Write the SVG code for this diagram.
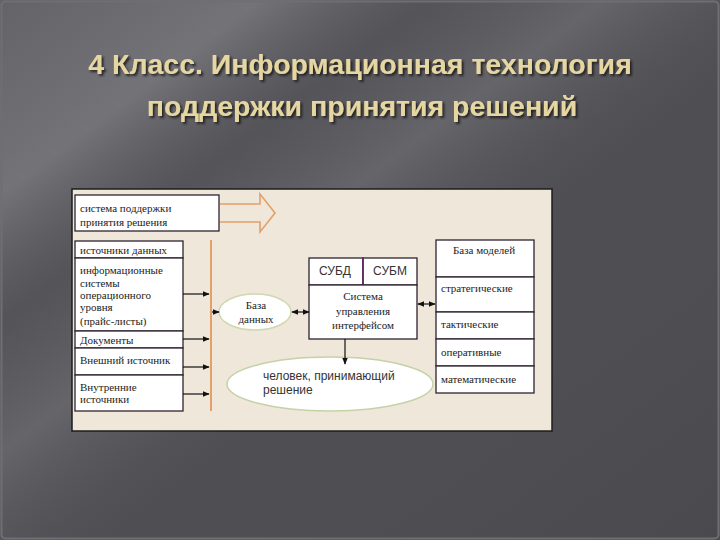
<svg xmlns="http://www.w3.org/2000/svg" width="720" height="540" viewBox="0 0 720 540">
<style>
.bg{fill:#4e4e53}
.title{font-family:"Liberation Sans",Arial,sans-serif;font-weight:bold;font-size:28.5px;text-anchor:middle;fill:#E6D7A2}
.panel{fill:#EFE7D9;stroke:#1c1c1c;stroke-width:1.5}
.box{fill:#ffffff;stroke:#2e2230;stroke-width:1.3}
.lbl{font-family:"Liberation Serif","Times New Roman",serif;font-size:11px;fill:#222}
.sans{font-family:"Liberation Sans",Arial,sans-serif;font-size:12px;fill:#333}
.mid{text-anchor:middle}
.con{stroke:#111;stroke-width:1.2;fill:none}
.orange{stroke:#E3A06A;stroke-width:1.6;fill:none}
</style>
<defs>
<linearGradient id="streak" x1="0" y1="0" x2="1" y2="1">
<stop offset="0" stop-color="#8a8a90" stop-opacity="0.35"/>
<stop offset="0.18" stop-color="#a0a0a6" stop-opacity="0.45"/>
<stop offset="0.3" stop-color="#6a6a70" stop-opacity="0.2"/>
<stop offset="0.42" stop-color="#9a9aa0" stop-opacity="0.3"/>
<stop offset="0.6" stop-color="#4e4e53" stop-opacity="0"/>
<stop offset="1" stop-color="#3e3e42" stop-opacity="0.3"/>
</linearGradient>
<filter id="shadow" x="-5%" y="-30%" width="110%" height="160%">
<feDropShadow dx="2" dy="2" stdDeviation="0.8" flood-color="#1a1a1c" flood-opacity="0.9"/>
</filter>
<marker id="ah" viewBox="0 0 10 10" refX="9" refY="5" markerWidth="6" markerHeight="6" orient="auto-start-reverse">
<path d="M0,1 L10,5 L0,9 Z" fill="#111"/>
</marker>
</defs>
<rect class="bg" x="0" y="0" width="720" height="540"/>
<rect x="0" y="0" width="720" height="540" fill="url(#streak)"/>
<rect x="1.5" y="1.5" width="717" height="537" fill="none" stroke="#6e6e74" stroke-width="2" rx="4"/>

<g id="title" filter="url(#shadow)">
<text class="title" x="360" y="74">4 Класс. Информационная технология</text>
<text class="title" x="362" y="116">поддержки принятия решений</text>
</g>

<rect class="panel" x="72" y="189" width="480" height="242"/>

<g id="dss">
<rect class="box" x="75" y="195" width="144" height="36"/>
<text class="lbl" x="80" y="212">система поддержки</text>
<text class="lbl" x="80" y="226">принятия решения</text>
</g>

<g id="sources">
<rect class="box" x="75" y="241" width="108" height="17"/>
<text class="lbl" x="80" y="254">источники данных</text>
</g>
<g id="infosys">
<rect class="box" x="75" y="258" width="108" height="73"/>
<text class="lbl" x="80" y="274">информационные</text>
<text class="lbl" x="80" y="287">системы</text>
<text class="lbl" x="80" y="299">операционного</text>
<text class="lbl" x="80" y="311">уровня</text>
<text class="lbl" x="80" y="325">(прайс-листы)</text>
</g>
<g id="docs">
<rect class="box" x="75" y="331" width="108" height="17"/>
<text class="lbl" x="80" y="344">Документы</text>
</g>
<g id="external">
<rect class="box" x="75" y="348" width="108" height="27"/>
<text class="lbl" x="80" y="364">Внешний источник</text>
</g>
<g id="internal">
<rect class="box" x="75" y="375" width="108" height="36"/>
<text class="lbl" x="80" y="391">Внутренние</text>
<text class="lbl" x="80" y="403">источники</text>
</g>

<g id="database">
<ellipse cx="255" cy="312" rx="36" ry="18" fill="#ffffff" stroke="#cfd8b0" stroke-width="1.5"/>
<text class="lbl mid" x="256" y="309" font-size="11.5">База</text>
<text class="lbl mid" x="256" y="323" font-size="11.5">данных</text>
</g>

<g id="dbms">
<rect class="box" x="309" y="258" width="54" height="27"/>
<text class="sans mid" x="335" y="275" font-size="11.5">СУБД</text>
</g>
<g id="mbms">
<rect class="box" x="363" y="258" width="54" height="27"/>
<text class="sans mid" x="390" y="275" font-size="11.5">СУБМ</text>
</g>
<line x1="363" y1="258" x2="363" y2="285" stroke="#6a2a6a" stroke-width="1.6"/>
<g id="interface">
<rect class="box" x="309" y="285" width="108" height="54"/>
<text class="lbl mid" x="363" y="300">Система</text>
<text class="lbl mid" x="363" y="315">управления</text>
<text class="lbl mid" x="363" y="329">интерфейсом</text>
</g>

<g id="human">
<ellipse cx="330" cy="384" rx="103" ry="27" fill="#ffffff" stroke="#c4d2a8" stroke-width="1.5"/>
<text class="sans" x="263" y="380">человек, принимающий</text>
<text class="sans" x="263" y="394">решение</text>
</g>

<g id="models">
<rect class="box" x="436" y="240" width="98" height="37"/>
<text class="lbl mid" x="484" y="254">База моделей</text>
</g>
<g id="strategic">
<rect class="box" x="436" y="277" width="98" height="35"/>
<text class="lbl" x="441" y="292">стратегические</text>
</g>
<g id="tactical">
<rect class="box" x="436" y="312" width="98" height="27"/>
<text class="lbl" x="441" y="328">тактические</text>
</g>
<g id="operative">
<rect class="box" x="436" y="339" width="98" height="27"/>
<text class="lbl" x="441" y="356">оперативные</text>
</g>
<g id="math">
<rect class="box" x="436" y="366" width="98" height="27"/>
<text class="lbl" x="441" y="383">математические</text>
</g>

<g id="connectors">
<path class="orange" d="M220,204 L260,204 L260,194 L275,213 L260,232 L260,222 L220,222"/>
<line x1="211" y1="240" x2="211" y2="411" stroke="#E3A06A" stroke-width="2"/>
<line class="con" x1="183" y1="294" x2="209" y2="294" marker-end="url(#ah)"/>
<line class="con" x1="183" y1="339" x2="209" y2="339" marker-end="url(#ah)"/>
<line class="con" x1="183" y1="367" x2="209" y2="367" marker-end="url(#ah)"/>
<line class="con" x1="183" y1="394" x2="209" y2="394" marker-end="url(#ah)"/>
<line class="con" x1="212" y1="312" x2="219" y2="312" marker-end="url(#ah)"/>
<line class="con" x1="292" y1="312" x2="309" y2="312" marker-start="url(#ah)" marker-end="url(#ah)"/>
<line class="con" x1="418" y1="304" x2="435" y2="304" marker-start="url(#ah)" marker-end="url(#ah)"/>
<line class="con" x1="345" y1="339" x2="345" y2="364" marker-end="url(#ah)"/>
</g>
</svg>
